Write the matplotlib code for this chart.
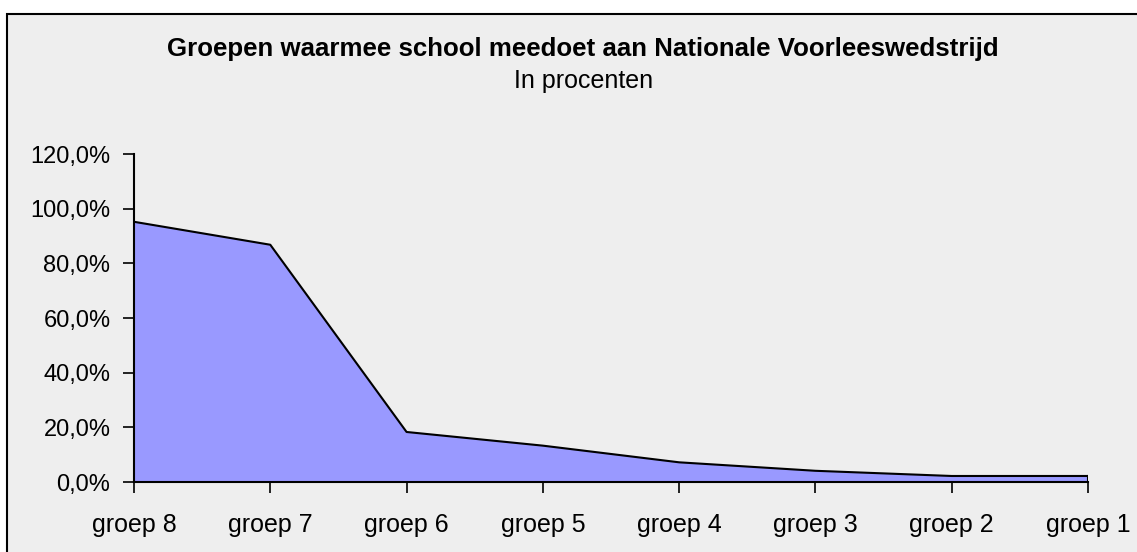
import numpy as np
import matplotlib.pyplot as plt
from matplotlib.patches import Rectangle
from matplotlib.ticker import FuncFormatter

plt.rcParams['font.family'] = ['Liberation Sans', 'DejaVu Sans']

groepen = ['groep 8', 'groep 7', 'groep 6', 'groep 5', 'groep 4', 'groep 3', 'groep 2', 'groep 1']
percentages = [95.2, 86.8, 18.3, 13.3, 7.2, 4.1, 2.2, 2.2]
y_ticks = [0, 20, 40, 60, 80, 100, 120]

W, H = 1137, 552
fig = plt.figure(figsize=(W / 100, H / 100), dpi=100)
fig.patch.set_facecolor('white')

# grey chart area with black frame (runs off the right and bottom edge)
frame = Rectangle((7 / W, -0.05), 1.05, 1 - 14 / H + 0.05, transform=fig.transFigure,
                  facecolor='#eeeeee', edgecolor='black', linewidth=1.5, zorder=-10)
fig.patches.append(frame)

ax = fig.add_axes([134 / W, 1 - 482 / H, (1088 - 134) / W, (482 - 154) / H])
ax.set_facecolor('none')

x = np.arange(len(groepen))
ax.fill_between(x, percentages, 0, facecolor='#9999ff', edgecolor='none')
ax.plot(x, percentages, color='black', linewidth=1.5)
ax.plot([x[-1], x[-1]], [0, percentages[-1]], color='black', linewidth=1.5)

ax.set_xlim(0, len(groepen) - 1)
ax.set_ylim(0, 120)
ax.set_xticks(x)
ax.set_xticklabels(groepen)
ax.set_yticks(y_ticks)
ax.yaxis.set_major_formatter(FuncFormatter(lambda v, p: f'{v:.1f}%'.replace('.', ',')))

for s in ['top', 'right']:
    ax.spines[s].set_visible(False)
for s in ['left', 'bottom']:
    ax.spines[s].set_linewidth(1.5)
    ax.spines[s].set_zorder(5)
ax.tick_params(axis='both', direction='out', length=8, width=1.2, colors='black')
ax.tick_params(axis='x', pad=14, labelsize=18)
ax.tick_params(axis='y', pad=9, labelsize=17)

fig.text(583 / W, 1 - 56 / H, 'Groepen waarmee school meedoet aan Nationale Voorleeswedstrijd',
         ha='center', va='baseline', fontsize=18.6, fontweight='bold')
fig.text(584 / W, 1 - 88 / H, 'In procenten', ha='center', va='baseline', fontsize=18)

fig.savefig('out.png', dpi=100)
